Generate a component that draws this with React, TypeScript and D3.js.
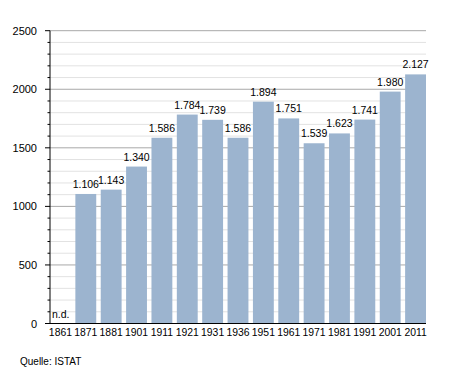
import React from "react";
import * as d3 from "d3";

const years = ["1861", "1871", "1881", "1901", "1911", "1921", "1931", "1936", "1951", "1961", "1971", "1981", "1991", "2001", "2011"];
const population: (number | null)[] = [null, 1106, 1143, 1340, 1586, 1784, 1739, 1586, 1894, 1751, 1539, 1623, 1741, 1980, 2127];
const majorTicks = [0, 500, 1000, 1500, 2000, 2500];
const sourceText = "Quelle: ISTAT";

const W = 455, H = 373;
const left = 50, right = 426, top = 30.7, bottom = 323.5;

export default function App() {
  const step = (right - left + 4.5) / years.length;
  const x = d3.scaleBand<string>().domain(years).range([left, left + step * years.length]).padding(0);
  const y = d3.scaleLinear().domain([0, 2500]).range([bottom, top]);
  const minor = d3.range(0, 2501, 100);
  const fmt = (v: number) => d3.format(",")(v).replace(/,/g, ".");
  const barW = step - 4.5;
  const font = "'Liberation Sans', Arial, sans-serif";

  return (
    <svg width={W} height={H} style={{ position: "absolute", left: 0, top: 0, background: "#fff" }} fontFamily={font}>
      {minor.map((v) => (
        <line key={"g" + v} x1={left} x2={right} y1={y(v)} y2={y(v)}
          stroke={v % 500 === 0 ? "#a8a8a8" : "#e2e2e2"} strokeWidth={1} />
      ))}
      {minor.map((v) => (
        <line key={"t" + v} x1={v % 500 === 0 ? left - 5 : left - 2.5} x2={left} y1={y(v)} y2={y(v)}
          stroke="#000" strokeWidth={1} />
      ))}
      {majorTicks.map((v) => (
        <text key={"l" + v} x={37} y={y(v) + 4} textAnchor="end" fontSize={11} fill="#000">{v}</text>
      ))}
      {years.map((yr, i) => {
        const v = population[i];
        const bx = x(yr)!;
        if (v === null) {
          return (
            <text key={yr} x={bx + 2} y={bottom - 6} fontSize={10.5} fill="#000">n.d.</text>
          );
        }
        return (
          <g key={yr}>
            <rect x={bx} y={y(v)} width={barW} height={bottom - y(v)} fill="#9cb4cf" />
            <text x={bx + barW / 2} y={y(v) - 6} textAnchor="middle" fontSize={10.5} fill="#000">{fmt(v)}</text>
          </g>
        );
      })}
      {years.map((yr) => (
        <text key={"x" + yr} x={x(yr)! + barW / 2} y={bottom + 12} textAnchor="middle" fontSize={10.4} fill="#000">{yr}</text>
      ))}
      <line x1={left} x2={left} y1={top} y2={bottom} stroke="#000" strokeWidth={1} />
      <line x1={left} x2={right} y1={bottom} y2={bottom} stroke="#000" strokeWidth={1} />
      <text x={20} y={365} fontSize={10} fill="#000">{sourceText}</text>
    </svg>
  );
}
